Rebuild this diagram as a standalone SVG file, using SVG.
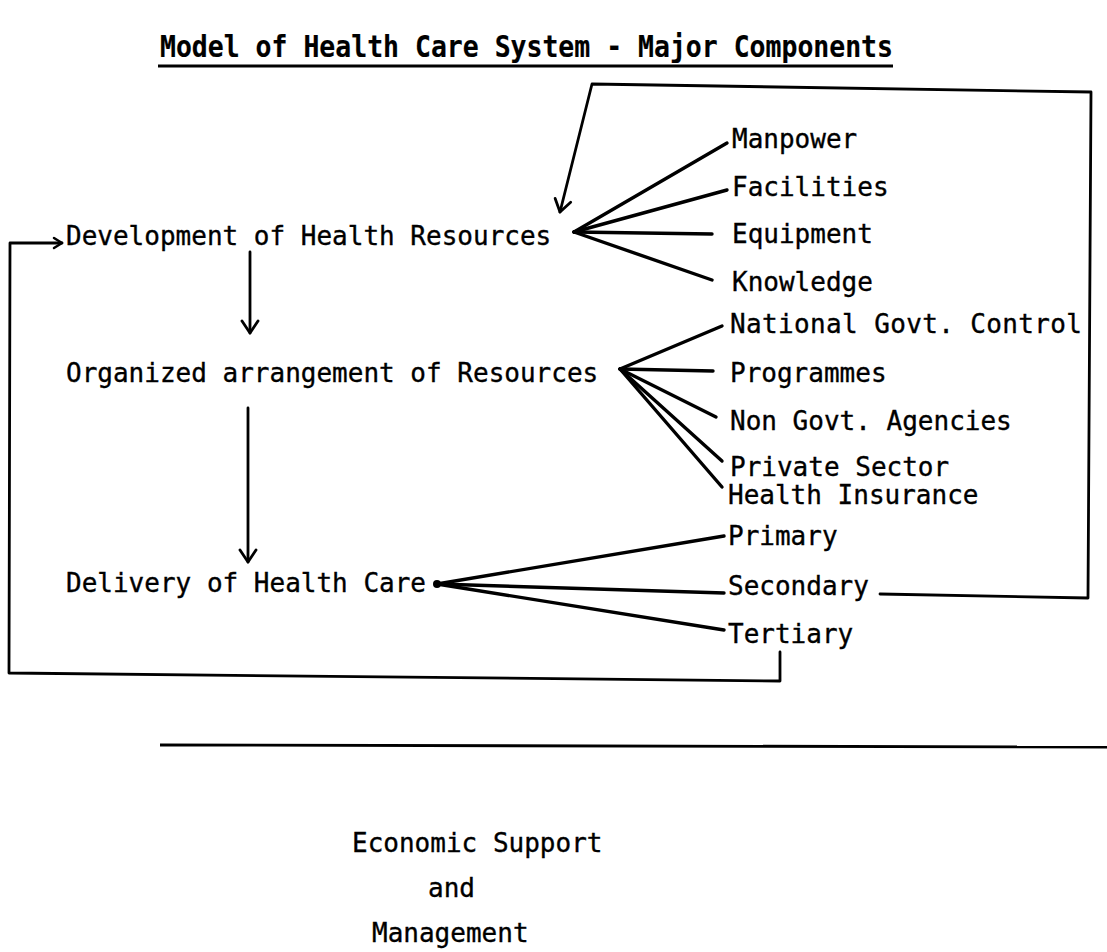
<svg xmlns="http://www.w3.org/2000/svg" width="1107" height="952" viewBox="0 0 1107 952">
  <style>
    .t{font-family:"DejaVu Sans Mono","Liberation Mono",monospace;font-size:26px;fill:#000;stroke:#000;stroke-width:0.35}
    .title{font-weight:bold;font-size:31px;stroke-width:0.2}
    .c{fill:none;stroke:#000;stroke-width:2.8;stroke-linecap:round;stroke-linejoin:round}
    .f{fill:none;stroke:#000;stroke-width:3.4;stroke-linecap:round}
  </style>
  <defs>
    <marker id="ah" markerUnits="userSpaceOnUse" markerWidth="24" markerHeight="24" refX="15" refY="10" orient="auto">
      <path d="M3,2 L15,10 L3,18" fill="none" stroke="#000" stroke-width="2.8" stroke-linecap="round" stroke-linejoin="round"/>
    </marker>
    <marker id="ahs" markerUnits="userSpaceOnUse" markerWidth="20" markerHeight="20" refX="10" refY="8" orient="auto">
      <path d="M2,3 L10,8 L2,13" fill="none" stroke="#000" stroke-width="2.5" stroke-linecap="round" stroke-linejoin="round"/>
    </marker>
  </defs>
  <rect width="1107" height="952" fill="#fff"/>

  <!-- heading -->
  <g id="heading">
    <text class="t title" x="160" y="57" textLength="733" lengthAdjust="spacingAndGlyphs">Model of Health Care System - Major Components</text>
    <line x1="158" y1="66" x2="893" y2="66" stroke="#000" stroke-width="3"/>
  </g>

  <!-- main stages -->
  <g id="development"><text class="t" x="66" y="245">Development of Health Resources</text></g>
  <g id="organized"><text class="t" x="66" y="382">Organized arrangement of Resources</text></g>
  <g id="delivery"><text class="t" x="66" y="592">Delivery of Health Care</text></g>

  <!-- resources -->
  <g id="manpower"><text class="t" x="732" y="148">Manpower</text></g>
  <g id="facilities"><text class="t" x="732" y="196">Facilities</text></g>
  <g id="equipment"><text class="t" x="732" y="243">Equipment</text></g>
  <g id="knowledge"><text class="t" x="732" y="291">Knowledge</text></g>

  <!-- arrangement -->
  <g id="national"><text class="t" x="730" y="333" textLength="352">National Govt. Control</text></g>
  <g id="programmes"><text class="t" x="730" y="382">Programmes</text></g>
  <g id="nongovt"><text class="t" x="730" y="430">Non Govt. Agencies</text></g>
  <g id="private"><text class="t" x="730" y="476">Private Sector</text></g>
  <g id="insurance"><text class="t" x="728" y="504">Health Insurance</text></g>

  <!-- care levels -->
  <g id="primary"><text class="t" x="728" y="545">Primary</text></g>
  <g id="secondary"><text class="t" x="728" y="595">Secondary</text></g>
  <g id="tertiary"><text class="t" x="728" y="643">Tertiary</text></g>

  <!-- economic base -->
  <g id="economic">
    <line x1="160" y1="745" x2="1107" y2="747" stroke="#000" stroke-width="2.8"/>
    <text class="t" x="352" y="852">Economic Support</text>
    <text class="t" x="428" y="897">and</text>
    <text class="t" x="372" y="942">Management</text>
  </g>

  <g id="connectors">
    <!-- stage flow -->
    <line class="c" x1="250" y1="252" x2="250" y2="333" marker-end="url(#ah)"/>
    <line class="c" x1="248" y1="408" x2="248" y2="562" marker-end="url(#ah)"/>

    <!-- resources fan -->
    <line class="f" x1="574" y1="232" x2="727" y2="143"/>
    <line class="f" x1="574" y1="232" x2="727" y2="190"/>
    <line class="f" x1="574" y1="232" x2="712" y2="234"/>
    <line class="f" x1="574" y1="232" x2="712" y2="280"/>

    <!-- arrangement fan -->
    <line class="f" x1="620" y1="369" x2="722" y2="326"/>
    <line class="f" x1="620" y1="369" x2="713" y2="371"/>
    <line class="f" x1="620" y1="369" x2="716" y2="417"/>
    <line class="f" x1="620" y1="369" x2="722" y2="461"/>
    <line class="f" x1="620" y1="369" x2="722" y2="487"/>

    <!-- care fan -->
    <circle cx="437" cy="584" r="4" fill="#000"/>
    <line class="f" x1="437" y1="584" x2="724" y2="536"/>
    <line class="f" x1="437" y1="584" x2="724" y2="593"/>
    <line class="f" x1="437" y1="584" x2="724" y2="630"/>

    <!-- feedback from secondary care to resources -->
    <polyline class="c" points="880,594 1088,598 1091,92 592,84 560,212" marker-end="url(#ah)"/>

    <!-- feedback from tertiary care to development -->
    <polyline class="c" points="780,652 780,681 9,673 10,243 62,243" marker-end="url(#ahs)"/>
  </g>
</svg>
